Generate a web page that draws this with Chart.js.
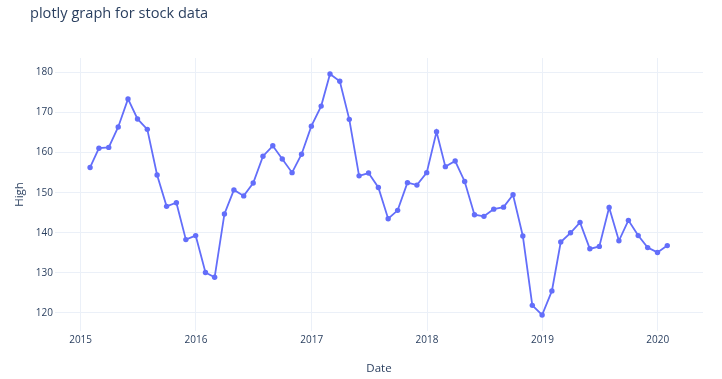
<!DOCTYPE html>
<html>
<head>
<meta charset="utf-8">
<script src="https://cdn.jsdelivr.net/npm/chart.js@4"></script>
<style>
    html, body { margin: 0; padding: 0; background: #fff; }
    #wrap { width: 722px; height: 379px; position: relative; }
</style>
</head>
<body>
<div id="wrap"><canvas id="stockChart"></canvas></div>
<script>
// Monthly "High" values
const dates = [
    '2015-01-31', '2015-02-28', '2015-03-31', '2015-04-30', '2015-05-31', '2015-06-30',
    '2015-07-31', '2015-08-31', '2015-09-30', '2015-10-31', '2015-11-30', '2015-12-31',
    '2016-01-31', '2016-02-29', '2016-03-31', '2016-04-30', '2016-05-31', '2016-06-30',
    '2016-07-31', '2016-08-31', '2016-09-30', '2016-10-31', '2016-11-30', '2016-12-31',
    '2017-01-31', '2017-02-28', '2017-03-31', '2017-04-30', '2017-05-31', '2017-06-30',
    '2017-07-31', '2017-08-31', '2017-09-30', '2017-10-31', '2017-11-30', '2017-12-31',
    '2018-01-31', '2018-02-28', '2018-03-31', '2018-04-30', '2018-05-31', '2018-06-30',
    '2018-07-31', '2018-08-31', '2018-09-30', '2018-10-31', '2018-11-30', '2018-12-31',
    '2019-01-31', '2019-02-28', '2019-03-31', '2019-04-30', '2019-05-31', '2019-06-30',
    '2019-07-31', '2019-08-31', '2019-09-30', '2019-10-31', '2019-11-30', '2019-12-31',
    '2020-01-31',
];

const highs = [
    156.3, 161.1, 161.3, 166.4, 173.4, 168.4, 165.8, 154.4, 146.6, 147.5, 138.3, 139.3,
    130.1, 128.9, 144.7, 150.7, 149.2, 152.4, 159.1, 161.7, 158.4, 155.0, 159.6, 166.6,
    171.6, 179.6, 177.8, 168.3, 154.2, 154.9, 151.3, 143.5, 145.6, 152.5, 151.9, 155.0,
    165.2, 156.5, 157.9, 152.8, 144.5, 144.1, 145.9, 146.4, 149.5, 139.2, 121.9, 119.5,
    125.5, 137.7, 140.0, 142.6, 136.0, 136.6, 146.3, 138.0, 143.1, 139.3, 136.3, 135.1,
    136.8,
];

const yearTicks = [2015, 2016, 2017, 2018, 2019, 2020];
const highTicks = [120, 130, 140, 150, 160, 170, 180];

const xRange = ['2014-10-12', '2020-05-23'];
const yRange = [115.5, 183.6];

const textColor = '#2a3f5f';
const gridColor = '#ebf0f8';
const lineColor = '#636efa';
const fontFamily = '"Open Sans", verdana, arial, sans-serif';

// plotly-style title, drawn at its own spot above the plot
const titlePlugin = {
    id: 'plotlyTitle',
    afterDraw(chart) {
        const ctx = chart.ctx;
        ctx.save();
        ctx.font = '14.6px ' + fontFamily;
        ctx.fillStyle = textColor;
        ctx.textBaseline = 'middle';
        ctx.textAlign = 'left';
        ctx.fillText('plotly graph for stock data', 30, 14);
        ctx.restore();
    },
};

const points = dates.map((d, i) => ({ x: Date.parse(d), y: highs[i] }));

const ctx = document.getElementById('stockChart').getContext('2d');
const chart = new Chart(ctx, {
    type: 'line',
    data: {
        datasets: [
            {
                label: 'High',
                data: points,
                borderColor: lineColor,
                backgroundColor: lineColor,
                borderWidth: 1.8,
                tension: 0,
                pointRadius: 2.7,
                pointBorderWidth: 0,
                pointBackgroundColor: lineColor,
                clip: false,
            },
        ],
    },
    options: {
        responsive: true,
        maintainAspectRatio: false,
        animation: false,
        layout: {
            autoPadding: false,
            padding: { top: 58, right: 19, bottom: 0, left: 0 },
        },
        plugins: {
            legend: { display: false },
            tooltip: { enabled: false },
            title: { display: false },
        },
        scales: {
            x: {
                type: 'linear',
                min: Date.parse(xRange[0]),
                max: Date.parse(xRange[1]),
                afterBuildTicks: (scale) => {
                    scale.ticks = yearTicks.map((y) => ({ value: Date.UTC(y, 0, 1) }));
                },
                afterFit: (scale) => {
                    scale.height = 48;
                },
                grid: { color: gridColor, lineWidth: 1, drawTicks: false },
                border: { display: false },
                ticks: {
                    color: textColor,
                    font: { family: fontFamily, size: 10 },
                    padding: 3,
                    maxRotation: 0,
                    callback: (v) => String(new Date(v).getUTCFullYear()),
                },
                title: {
                    display: true,
                    text: 'Date',
                    color: textColor,
                    font: { family: fontFamily, size: 11.5 },
                    padding: { top: 0, bottom: 3 },
                },
            },
            y: {
                min: yRange[0],
                max: yRange[1],
                afterBuildTicks: (scale) => {
                    scale.ticks = highTicks.map((v) => ({ value: v }));
                },
                afterFit: (scale) => {
                    scale.width = 55;
                },
                grid: { color: gridColor, lineWidth: 1, drawTicks: false },
                border: { display: false },
                ticks: {
                    color: textColor,
                    font: { family: fontFamily, size: 10 },
                    padding: 2,
                },
                title: {
                    display: true,
                    text: 'High',
                    color: textColor,
                    font: { family: fontFamily, size: 11.5 },
                    padding: { top: 13, bottom: 0 },
                },
            },
        },
    },
    plugins: [titlePlugin],
});
</script>
</body>
</html>
